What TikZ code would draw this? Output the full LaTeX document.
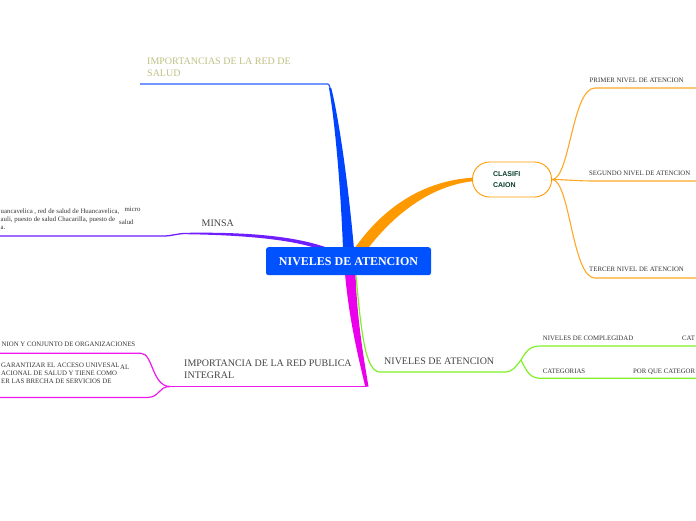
\documentclass[tikz,border=0pt]{standalone}
\usepackage{fontspec}
\setmainfont{Liberation Serif}
\setsansfont{Liberation Sans}
\pgfdeclarelayer{bg}
\pgfsetlayers{bg,main}
\definecolor{rootblue}{RGB}{0,82,255}
\definecolor{brblue}{RGB}{0,68,255}
\definecolor{brpurple}{RGB}{110,30,255}
\definecolor{brorange}{RGB}{255,153,0}
\definecolor{brmagenta}{RGB}{235,0,235}
\definecolor{brgreen}{RGB}{128,240,40}
\definecolor{khaki}{RGB}{190,192,130}
\definecolor{txtgray}{RGB}{68,68,68}
\definecolor{clasgreen}{RGB}{10,60,45}
\tikzset{
  rootbox/.style={fill=rootblue, rounded corners=2.5pt, minimum width=165pt, minimum height=28pt, inner sep=0pt, text=white, font=\fontsize{12}{14}\selectfont\bfseries},
  clasbox/.style={draw=brorange, line width=0.9pt, fill=white, rounded corners=17pt, minimum width=79pt, minimum height=35pt, inner sep=0pt, align=left, text width=38pt, text=clasgreen, font=\fontsize{7}{11}\selectfont\sffamily\bfseries},
  lbl/.style={inner sep=0pt, anchor=base west, align=left, text=txtgray, font=\fontsize{10}{11.7}\selectfont},
  leaf/.style={inner sep=0pt, anchor=base west, align=left, text=black!80, font=\fontsize{6.8}{8.2}\selectfont},
  bline/.style={draw=brblue!85, line width=1.3pt},
  pline/.style={draw=brpurple, line width=1.3pt},
  oline/.style={draw=brorange!85, line width=1.1pt},
  mline/.style={draw=brmagenta!90, line width=1.2pt},
  gline/.style={draw=brgreen, line width=1.2pt},
}
\begin{document}
\begin{tikzpicture}[x=1pt,y=-1pt]
\useasboundingbox (0,0) rectangle (696,520);
% main topic
\node (root) at (348.5,261.2) [rootbox] {NIVELES DE ATENCION};
% branch labels (base = last line)
\node (salud) at (147,76.5) [lbl, text=khaki] {IMPORTANCIAS DE LA RED DE\\SALUD};
\node (minsa) at (201.5,226) [lbl] {MINSA};
\node (redp) at (184,378) [lbl] {IMPORTANCIA DE LA RED PUBLICA\\INTEGRAL};
\node (nivat) at (384,364.5) [lbl] {NIVELES DE ATENCION};
\node (clas) at (512,179.5) [clasbox] {CLASIFI\\CAION};
% leaves
\node (primer) at (589.5,82) [leaf] {PRIMER NIVEL DE ATENCION};
\node (segundo) at (589,175.7) [leaf] {SEGUNDO NIVEL DE ATENCION};
\node (tercer) at (589,271.7) [leaf] {TERCER NIVEL DE ATENCION};
\node (compl) at (542.7,340.7) [leaf] {NIVELES DE COMPLEGIDAD};
\node (cat) at (682,340.5) [leaf] {CAT};
\node (categ) at (542.7,373.3) [leaf] {CATEGORIAS};
\node (porque) at (633,373.3) [leaf] {POR QUE CATEGOR};
\node (union) at (1.5,346.7) [leaf] {NION Y CONJUNTO DE ORGANIZACIONES};
\node (garant) at (1,383.5) [leaf] {GARANTIZAR EL ACCESO UNIVESAL\\ACIONAL DE SALUD Y TIENE COMO\\ER LAS BRECHA DE SERVICIOS DE};
\node (al) at (120,369.3) [leaf] {AL};
\node (huanca) at (0.5,229.5) [leaf] {uancavelica , red de salud de Huancavelica,\\auli, puesto de salud Chacarilla, puesto de\\a.};
\node (micro) at (124.5,211.5) [leaf] {micro};
\node (msalud) at (119,224) [leaf] {salud};
\begin{pgfonlayer}{bg}
% blue
\coordinate (saludL) at (140,84);
\coordinate (saludE) at (330,88);
\draw[bline] (saludL) -- (325.5,84) .. controls (329,84) .. (saludE);
\fill[brblue] ([xshift=-5.5pt,yshift=-2pt]root.north) .. controls (340,170) and (333,110) .. ([xshift=-1pt]saludE) -- ([xshift=1.2pt]saludE) .. controls (337,110) and (347,170) .. ([xshift=5.5pt,yshift=-2pt]root.north) -- cycle;
% purple
\coordinate (minsaL) at (0,236);
\coordinate (minsaE) at (186,233.5);
\draw[pline] (minsaL) -- (163,236) .. controls (173,236) and (176,233.5) .. (minsaE);
\fill[brpurple] ([yshift=0.7pt]minsaE) .. controls (240,232) and (295,235) .. ([xshift=-18pt,yshift=-2pt]root.north) -- ([xshift=-30pt,yshift=-2pt]root.north) .. controls (290,239) and (240,235) .. ([yshift=-0.7pt]minsaE) -- cycle;
% orange
\fill[brorange] ([xshift=5.5pt,yshift=-2pt]root.north) .. controls (385,205) and (425,181) .. ([yshift=1.8pt]clas.west) -- ([yshift=-1.8pt]clas.west) .. controls (432,186) and (396,212) .. ([xshift=19pt,yshift=-2pt]root.north) -- cycle;
\coordinate (primerE) at (696,88);
\coordinate (segundoE) at (696,181);
\coordinate (tercerE) at (696,278);
\draw[oline] (clas.east) .. controls (570,179.5) and (572,88) .. (595,88) -- (primerE);
\draw[oline] (clas.east) .. controls (565,179.5) and (575,181) .. (595,181) -- (segundoE);
\draw[oline] (clas.east) .. controls (570,179.5) and (572,278) .. (595,278) -- (tercerE);
% magenta
\coordinate (redpE) at (367,386.5);
\coordinate (redpF) at (170,386.5);
\fill[brmagenta] ([xshift=-3.5pt,yshift=2pt]root.south) .. controls (349,320) and (359,360) .. ([xshift=-1.8pt]redpE) -- ([xshift=1.5pt]redpE) .. controls (364,360) and (357,320) .. ([xshift=7pt,yshift=2pt]root.south) -- cycle;
\draw[mline] (redpF) -- (redpE);
\coordinate (unionE) at (0,353.3);
\coordinate (garantE) at (0,397.5);
\draw[mline] (redpF) .. controls (152,386.5) and (153,353.3) .. (141,353.3) -- (unionE);
\draw[mline] (redpF) .. controls (158,386.5) and (160,397.5) .. (147,397.5) -- (garantE);
% green
\coordinate (nivE) at (380,372);
\coordinate (nivF) at (521,360);
\draw[gline] ([xshift=7.5pt]root.south) .. controls (361,330) and (365,372) .. (nivE) -- (505,372) .. controls (513,372) and (516,366) .. (nivF);
\coordinate (complE) at (696,346);
\coordinate (categE) at (696,378.3);
\draw[gline] (nivF) .. controls (527,350) and (530,346) .. (541,346) -- (complE);
\draw[gline] (nivF) .. controls (527,372) and (530,378.3) .. (541,378.3) -- (categE);
\end{pgfonlayer}
\end{tikzpicture}
\end{document}
